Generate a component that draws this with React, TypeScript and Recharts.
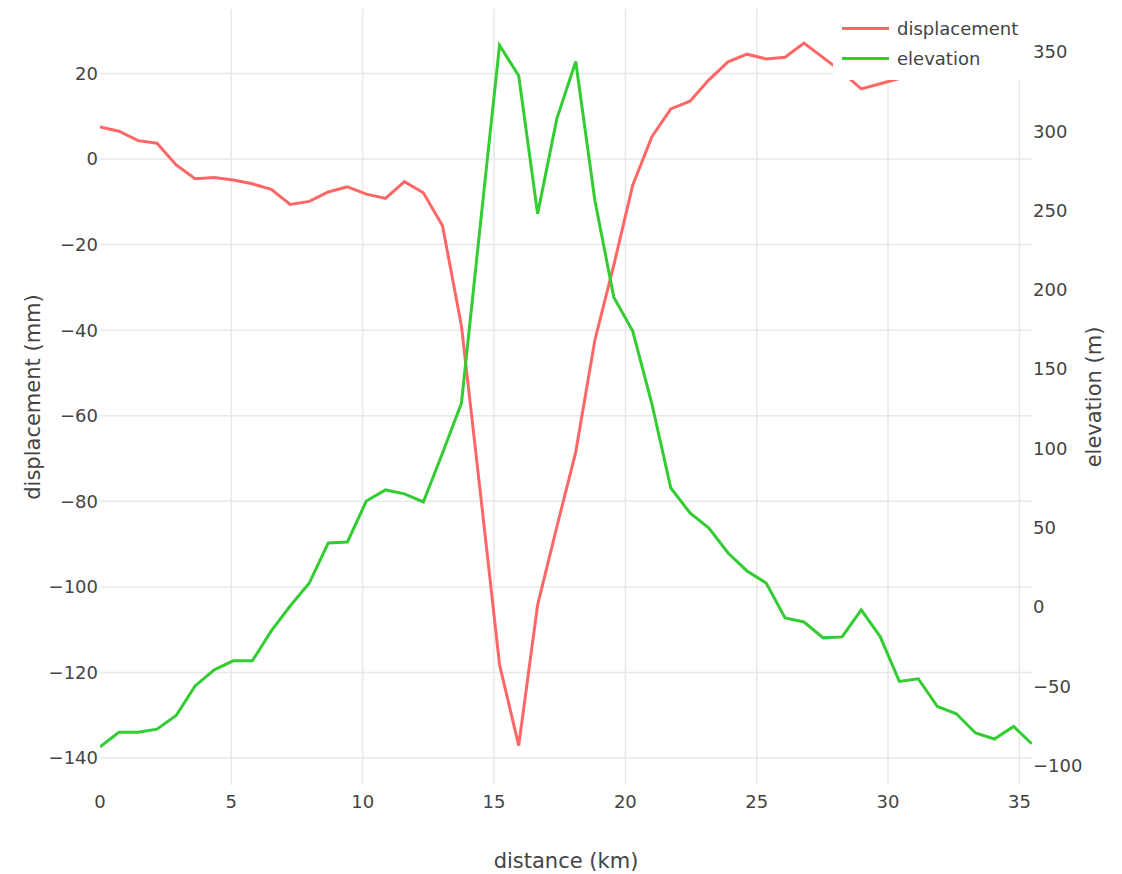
import {
  ComposedChart,
  Line,
  XAxis,
  YAxis,
  CartesianGrid,
  Legend,
} from 'recharts';

const distanceKm = [
  0, 0.72, 1.45, 2.17, 2.9, 3.62, 4.35, 5.07, 5.8, 6.52,
  7.24, 7.97, 8.69, 9.42, 10.14, 10.87, 11.59, 12.31, 13.04, 13.76,
  14.49, 15.21, 15.94, 16.66, 17.39, 18.11, 18.84, 19.56, 20.28, 21.01,
  21.73, 22.46, 23.18, 23.91, 24.63, 25.36, 26.08, 26.8, 27.53, 28.25,
  28.98, 29.7, 30.43, 31.15, 31.88, 32.6, 33.33, 34.05, 34.78, 35.47,
];

const displacementMm = [
  7.5, 6.5, 4.3, 3.7, -1.4, -4.6, -4.3, -4.9, -5.8, -7.1,
  -10.6, -9.9, -7.7, -6.5, -8.2, -9.2, -5.3, -7.9, -15.6, -39,
  -78.5, -118.2, -137.1, -104.2, -86, -68.5, -42.3, -24.8, -6.1, 5.2,
  11.7, 13.5, 18.5, 22.7, 24.5, 23.4, 23.8, 27.1, 23.7, 20.3,
  16.4, 17.6, 18.8, 19.5, 20.3, 21.2, 21.8, 22.4, 22.9, 23.5,
];

const elevationM = [
  -88.2, -79, -79, -77.1, -68.5, -49.8, -39.7, -34, -34, -15.1,
  0.6, 15.1, 40.4, 41, 66.8, 73.8, 71.3, 66.2, 97.1, 128.6,
  242.8, 354.3, 335, 247.9, 307.8, 344, 256.3, 195.4, 174, 128,
  75, 59.3, 49.8, 34, 22.7, 15.1, -6.9, -9.5, -19.5, -18.9,
  -1.9, -18.7, -47, -45.3, -62.8, -67.4, -79.5, -83.3, -75.4, -86.3,
];

const xTicks = [0, 5, 10, 15, 20, 25, 30, 35];
const leftTicks = [-140, -120, -100, -80, -60, -40, -20, 0, 20];
const rightTicks = [-100, -50, 0, 50, 100, 150, 200, 250, 300, 350];

const X_DOMAIN: [number, number] = [0, 35.48];
const LEFT_DOMAIN: [number, number] = [-146.3, 35.06];
const RIGHT_DOMAIN: [number, number] = [-112.3, 377.1];

const RED = '#ff6666';
const GREEN = '#33cc33';
const FONT = '"DejaVu Sans", Verdana, sans-serif';
const TEXT = '#444';

const data = distanceKm.map((d, i) => ({
  distance: d,
  displacement: displacementMm[i],
  elevation: elevationM[i],
}));

const fmt = (v: number) => (v < 0 ? `\u2212${Math.abs(v)}` : `${v}`);

const tickStyle = { fontSize: 18, fill: TEXT, fontFamily: FONT };
const titleStyle = { fontSize: 21, fill: TEXT, fontFamily: FONT };

// grid only at tick values, no lines on the plot border
const hLines = ({ yAxis, offset }: any) => {
  if (yAxis && typeof yAxis.scale === 'function') return leftTicks.map((t) => yAxis.scale(t));
  const [lo, hi] = LEFT_DOMAIN;
  return leftTicks.map((t) => offset.top + (offset.height * (hi - t)) / (hi - lo));
};

const vLines = ({ xAxis, offset }: any) => {
  const inner = xTicks.filter((t) => t > 0);
  if (xAxis && typeof xAxis.scale === 'function') return inner.map((t) => xAxis.scale(t));
  const [lo, hi] = X_DOMAIN;
  return inner.map((t) => offset.left + (offset.width * (t - lo)) / (hi - lo));
};

function LegendBox() {
  const items = [
    { name: 'displacement', color: RED },
    { name: 'elevation', color: GREEN },
  ];
  return (
    <div style={{ background: '#fff', width: 199, height: 80, position: 'relative' }}>
      {items.map((it, i) => (
        <div
          key={it.name}
          style={{
            position: 'absolute',
            left: 9,
            top: 28 + i * 30 - 12,
            height: 24,
            display: 'flex',
            alignItems: 'center',
            fontFamily: FONT,
            fontSize: 18,
            color: TEXT,
            whiteSpace: 'nowrap',
          }}
        >
          <span style={{ display: 'inline-block', width: 47, height: 3, background: it.color, marginRight: 8 }} />
          {it.name}
        </div>
      ))}
    </div>
  );
}

export default function App() {
  return (
    <div style={{ position: 'absolute', left: 0, top: 0, background: '#fff' }}>
      <ComposedChart
        width={1122}
        height={874}
        data={data}
        margin={{ top: 9, right: 10, bottom: 39, left: 10 }}
      >
        <CartesianGrid
          yAxisId="left"
          stroke="#e8e8e8"
          strokeWidth={1.5}
          horizontalCoordinatesGenerator={hLines}
          verticalCoordinatesGenerator={vLines}
        />
        <XAxis
          dataKey="distance"
          type="number"
          domain={X_DOMAIN}
          ticks={xTicks}
          allowDataOverflow
          tick={tickStyle}
          tickLine={false}
          axisLine={false}
          tickSize={0}
          tickMargin={10}
          height={50}
          label={{ value: 'distance (km)', position: 'bottom', offset: 18, style: titleStyle }}
        />
        <YAxis
          yAxisId="left"
          domain={LEFT_DOMAIN}
          ticks={leftTicks}
          allowDataOverflow
          tickFormatter={fmt}
          tick={tickStyle}
          tickLine={false}
          axisLine={false}
          tickSize={0}
          tickMargin={2}
          width={90}
          label={{ value: 'displacement (mm)', angle: -90, position: 'center', dx: -22, style: titleStyle }}
        />
        <YAxis
          yAxisId="right"
          orientation="right"
          domain={RIGHT_DOMAIN}
          ticks={rightTicks}
          allowDataOverflow
          tickFormatter={fmt}
          tick={tickStyle}
          tickLine={false}
          axisLine={false}
          tickSize={0}
          tickMargin={1}
          width={80}
          label={{ value: 'elevation (m)', angle: -90, position: 'center', dx: 22, style: titleStyle }}
        />
        <Line
          yAxisId="left"
          type="linear"
          dataKey="displacement"
          stroke={RED}
          strokeWidth={3}
          dot={false}
          isAnimationActive={false}
        />
        <Line
          yAxisId="right"
          type="linear"
          dataKey="elevation"
          stroke={GREEN}
          strokeWidth={3}
          dot={false}
          isAnimationActive={false}
        />
        <Legend
          layout="horizontal"
          verticalAlign="middle"
          align="center"
          content={() => <LegendBox />}
          wrapperStyle={{ left: 833, top: 0, width: 199, height: 80 }}
        />
      </ComposedChart>
    </div>
  );
}
